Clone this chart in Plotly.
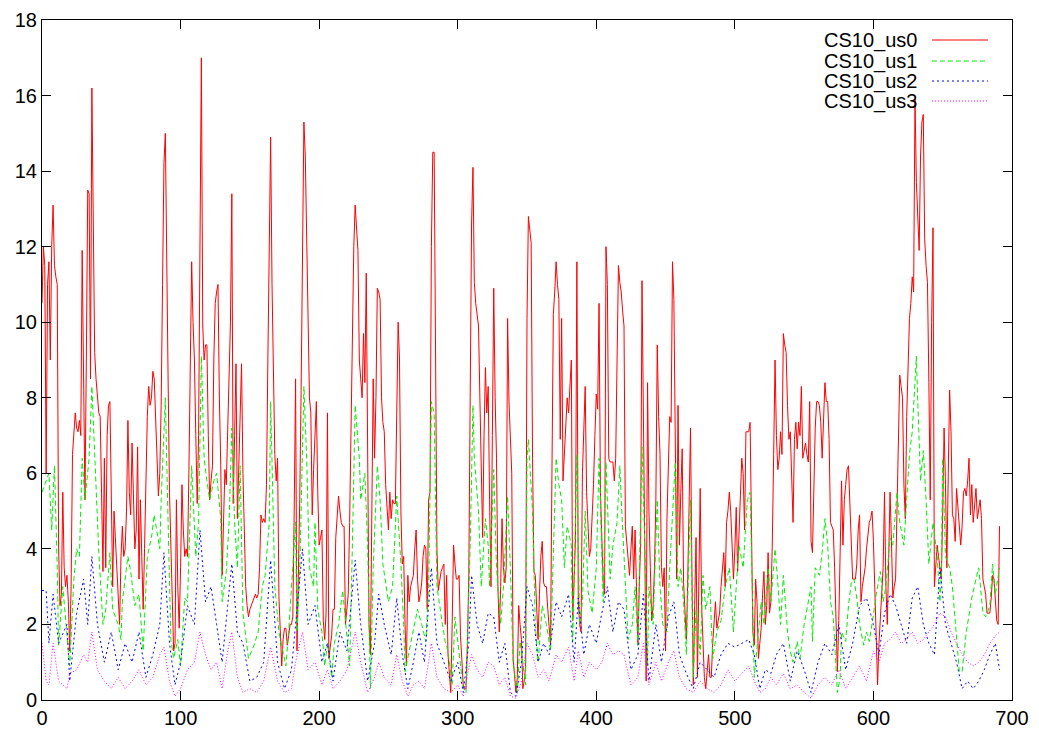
import plotly.graph_objects as go

# CS10_us0: one value per sample index 0..691
us0 = [10.5,12.0,11.5,6.0,11.0,11.6,9.0,12.0,13.1,11.5,11.2,11.0,4.0,2.5,2.8,5.5,3.5,3.0,3.3,2.6,
1.3,3.0,6.5,7.0,7.6,7.2,7.1,7.4,7.0,11.9,8.0,5.3,9.0,13.5,13.4,8.5,16.2,12.0,9.2,8.5,
8.0,7.6,7.5,5.0,3.4,6.4,3.5,7.0,7.8,7.9,4.7,3.0,5.0,4.2,3.5,2.4,2.0,3.8,4.6,3.8,
4.0,5.0,7.4,5.5,4.9,6.8,5.0,4.0,4.5,6.7,3.2,5.3,3.8,2.4,4.0,6.0,7.5,8.3,7.8,8.0,
8.7,8.5,7.6,6.5,5.4,6.0,7.8,11.0,14.2,15.0,11.0,8.5,5.5,4.1,2.5,1.3,1.5,5.3,3.0,1.9,
3.5,5.7,4.5,3.8,4.0,3.8,6.0,9.5,11.6,10.0,9.0,7.0,5.2,7.0,12.0,17.0,9.9,9.0,9.4,9.4,
7.0,5.3,5.8,6.2,9.0,10.5,10.8,11.0,8.0,6.2,3.3,4.5,6.1,5.7,7.0,8.5,10.0,13.4,5.2,7.0,
8.9,4.8,6.0,7.5,8.9,6.0,4.1,3.0,2.5,2.2,2.4,2.5,2.6,2.7,2.8,2.7,2.8,3.5,4.9,4.7,
4.8,4.7,5.7,9.0,13.0,14.9,11.0,9.2,6.5,5.8,6.4,2.7,1.5,0.9,1.6,1.9,1.9,1.45,1.7,2.0,
2.0,2.2,5.0,8.5,1.3,3.0,5.3,8.2,13.0,15.3,14.4,12.0,9.1,8.0,7.6,4.9,6.1,7.0,7.9,5.5,
4.1,4.3,4.5,2.1,1.6,2.3,7.6,1.1,1.5,1.7,2.4,2.4,4.3,5.0,5.4,5.0,4.7,4.6,4.6,2.0,
2.5,2.8,4.7,7.0,9.9,12.0,13.1,12.5,11.9,9.0,8.4,8.0,9.7,8.4,11.3,5.0,2.0,1.2,5.0,8.5,
6.4,8.0,10.9,10.8,10.6,8.0,7.35,7.1,5.7,5.0,4.5,5.5,4.8,5.3,5.2,5.2,7.5,10.0,9.0,5.0,
3.6,3.8,2.0,0.9,3.3,2.6,3.0,3.2,3.3,4.0,4.5,3.2,2.6,2.8,3.1,3.8,4.1,4.0,2.4,5.3,
5.5,12.0,14.5,14.5,8.0,4.0,2.9,3.2,3.4,3.5,3.6,2.0,3.3,1.2,0.6,0.2,2.0,4.1,3.6,3.2,
3.2,3.3,1.7,1.0,0.4,0.3,0.3,1.5,3.3,8.0,12.6,14.1,11.05,10.5,10.1,9.9,8.0,6.4,4.3,7.0,
8.8,7.6,8.3,5.3,3.0,7.0,10.9,8.0,6.4,3.0,1.8,3.0,4.8,3.5,3.1,3.5,10.1,7.9,7.0,6.0,
1.1,0.5,0.2,0.6,2.5,2.0,1.6,0.3,0.5,0.9,10.1,12.8,12.4,12.1,6.4,3.4,3.3,2.5,1.6,2.8,
3.8,4.2,3.1,3.0,3.0,2.4,1.8,1.45,6.0,10.2,10.8,11.6,11.0,10.6,6.9,10.1,5.8,6.5,7.5,8.0,
7.6,8.2,9.0,2.1,3.5,4.3,11.6,2.6,2.0,1.8,6.0,7.5,8.3,5.5,4.5,3.8,4.0,4.8,5.7,7.0,
8.1,7.7,10.5,5.5,4.0,3.1,2.8,12.0,11.0,6.4,6.3,6.3,6.3,5.8,6.4,9.0,11.5,11.05,10.8,10.3,
9.9,4.6,4.2,3.8,3.3,4.0,4.6,3.2,4.5,3.0,1.45,3.0,4.1,11.1,8.0,5.0,0.5,8.4,5.0,3.5,
2.1,2.5,3.5,5.3,9.4,7.5,6.5,3.5,3.0,3.5,1.3,4.8,6.5,7.5,7.35,11.6,10.6,6.0,3.2,7.8,
4.1,5.5,6.65,3.1,2.2,1.6,3.2,5.0,7.2,3.5,0.4,2.5,4.3,0.6,3.0,5.6,2.5,1.3,0.6,0.3,
0.9,1.2,0.6,0.6,1.5,2.0,2.6,1.9,2.1,2.3,3.0,3.5,3.9,3.0,4.7,5.0,5.5,5.0,4.0,3.2,
4.0,5.1,3.4,4.5,5.7,6.4,6.0,4.5,7.1,7.1,7.1,7.35,4.0,1.8,1.45,3.2,2.6,1.1,1.5,1.9,
2.8,3.4,2.0,2.5,3.9,2.3,2.6,4.1,6.5,9.0,7.0,6.1,6.4,7.1,6.5,9.7,9.4,9.2,7.8,6.9,
7.1,5.5,4.7,6.9,7.35,6.65,7.35,7.0,8.3,6.4,6.6,6.8,6.5,6.3,7.9,4.2,3.9,5.5,7.2,7.9,
7.9,7.8,7.35,6.4,7.5,8.4,7.9,7.9,6.9,4.7,4.6,4.5,3.5,2.0,0.75,2.1,4.0,5.8,4.1,5.3,
5.7,6.1,6.2,5.0,4.0,3.2,3.2,3.2,3.6,4.5,4.9,2.6,3.0,3.3,3.5,4.0,4.3,4.7,4.8,5.0,
4.2,3.0,1.9,0.4,1.5,2.3,3.0,3.5,5.5,3.0,2.0,4.0,5.5,4.2,2.7,3.0,3.2,5.0,7.0,8.6,
8.3,8.0,5.7,4.8,7.5,9.2,10.1,10.5,11.2,10.8,15.9,13.7,12.5,11.9,14.4,15.3,15.5,12.2,11.5,11.05,
8.4,5.3,10.0,12.5,3.0,3.5,4.1,3.8,3.5,3.2,5.0,7.2,5.7,3.5,6.0,8.2,7.1,4.9,4.8,4.2,
5.6,5.1,4.6,4.1,4.6,5.5,5.6,5.4,5.8,6.4,4.9,5.7,4.7,5.2,5.6,4.8,5.1,5.3,4.8,3.2,
3.0,2.8,2.3,2.3,2.3,2.7,3.3,3.2,2.7,2.1,2.0,4.6]
us0_x = list(range(len(us0)))

# CS10_us1
us1_x = [0,3,5,7,9,11,12,15,18,20,23,25,27,29,31,34,36,38,41,44,46,49,51,55,57,
58,62,64,67,70,73,76,79,81,85,86,89,91,93,95,98,100,103,105,108,111,113,115,
117,119,121,124,126,129,130,133,135,137,139,141,143,145,149,153,156,159,161,164,165,167,168,171,174,
176,178,183,184,186,189,191,193,196,197,199,202,204,206,209,211,214,217,220,222,224,226,229,230,233,
235,237,239,242,244,246,249,250,253,256,259,261,262,265,268,271,274,277,279,281,283,285,289,291,
293,296,298,300,304,306,309,311,312,315,317,320,322,323,326,328,331,333,336,338,340,343,345,349,350,
351,354,356,358,361,364,367,370,371,373,375,377,379,382,383,386,388,390,392,394,397,400,402,405,407,
410,412,415,417,418,421,423,426,428,430,433,435,437,438,441,444,446,448,451,453,455,457,459,461,463,465,467,
468,470,472,475,477,479,482,484,487,490,493,496,499,501,503,506,509,511,513,514,517,519,521,524,
526,529,531,533,535,538,540,542,545,547,550,552,555,556,558,561,563,565,567,569,571,574,576,577,580,582,584,
586,588,590,593,595,597,600,602,605,607,609,612,614,617,619,622,624,626,628,631,632,634,636,638,640,643,
646,648,649,650,652,655,657,659,662,664,667,669,671,674,676,679,681,684,686,688,691]
us1 = [5.5,5.8,6.0,4.5,6.2,3.5,1.45,3.0,1.8,0.9,3.2,4.0,3.8,6.4,5.3,6.4,8.3,6.4,3.9,2.0,2.4,3.9,2.4,2.0,1.6,
2.6,3.8,3.4,2.5,2.8,1.3,3.8,4.3,4.9,4.0,5.3,8.0,4.7,1.6,1.1,1.6,0.9,2.7,2.6,6.2,3.8,4.7,9.1,
6.4,5.8,5.3,5.8,6.0,4.8,2.6,3.4,4.7,7.2,4.7,3.5,6.2,2.3,1.1,1.45,1.8,3.0,3.3,4.7,7.9,4.7,3.0,1.8,1.2,
0.9,1.8,4.7,1.8,3.4,8.3,6.4,3.5,3.0,4.7,2.4,1.8,0.9,1.5,0.6,1.5,2.0,2.9,1.8,0.9,4.1,7.8,6.4,5.3,6.0,
4.1,0.3,3.5,6.2,5.3,3.6,2.8,2.6,3.0,5.4,3.6,2.0,0.75,1.3,1.8,2.4,2.0,1.55,3.0,7.9,7.6,3.0,2.0,1.55,
1.3,0.4,2.2,1.55,0.3,0.2,4.1,7.8,6.4,5.0,3.0,4.8,4.1,3.0,6.1,3.5,2.0,3.0,5.4,3.5,1.0,0.2,1.55,0.4,6.4,
6.9,5.0,2.0,1.0,2.5,2.0,1.3,5.3,6.4,5.7,5.3,3.5,4.6,4.1,1.55,6.5,2.0,2.6,5.0,2.9,2.3,3.5,6.4,2.6,6.3,
3.2,4.1,4.7,6.2,5.3,3.0,1.6,2.0,3.0,1.45,6.7,4.1,0.9,3.0,2.0,5.3,3.0,2.0,1.8,3.5,5.1,6.3,3.0,3.5,2.6,1.2,4.1,
5.3,0.6,2.4,1.2,3.3,2.4,3.0,1.1,1.8,2.1,3.0,3.5,1.8,3.0,4.1,3.5,5.3,5.5,2.4,0.6,1.8,2.6,2.0,3.5,
2.6,4.0,3.1,2.0,3.3,1.8,1.3,1.0,1.55,1.1,2.0,2.4,3.0,1.55,3.5,3.3,3.9,4.8,4.1,2.6,2.2,0.2,0.6,1.8,1.55,2.5,3.1,
3.2,2.7,2.0,1.45,1.8,1.55,2.25,2.8,3.4,2.6,3.0,4.3,4.1,5.5,4.7,4.1,5.3,6.5,7.1,9.1,7.9,5.8,6.6,5.3,3.6,4.7,
3.8,2.6,3.3,6.4,3.8,3.5,3.0,2.0,0.75,0.75,1.8,2.25,2.7,3.2,3.5,2.3,2.2,2.5,3.6,2.8,3.5]

# CS10_us2
us2_x = [0,3,5,8,12,18,20,25,30,33,36,40,45,50,55,60,65,70,75,80,85,88,92,96,100,105,110,114,118,122,126,
130,134,137,141,145,150,155,160,165,170,175,180,183,188,192,197,202,206,210,215,220,226,230,235,240,243,247,
252,256,260,264,268,272,276,281,285,290,295,300,304,308,310,314,318,322,326,330,334,338,342,346,350,354,358,
362,366,371,375,380,384,387,391,395,400,404,408,412,416,420,425,430,434,438,443,447,452,456,460,465,470,475,
480,485,490,495,500,505,510,514,518,522,526,530,535,540,545,550,555,560,565,570,575,580,585,590,595,600,604,
608,612,616,620,624,628,632,636,640,644,648,652,656,660,664,668,672,676,680,684,688,691]
us2 = [2.9,2.9,1.5,2.8,1.5,2.0,0.5,2.3,3.2,2.0,3.8,2.0,1.0,1.8,0.8,1.5,1.0,1.8,0.6,1.2,2.0,3.9,1.5,0.4,1.0,2.5,2.0,4.5,2.6,3.0,2.0,
1.0,2.5,3.6,1.8,1.5,0.5,0.6,1.0,3.7,1.0,0.3,0.8,2.0,4.0,2.0,2.5,1.0,1.5,0.5,1.8,1.3,3.7,2.0,0.5,1.5,2.8,2.0,
1.2,2.7,1.2,0.3,1.0,1.8,1.0,3.5,1.5,1.0,0.5,1.0,0.2,1.5,3.3,2.0,1.5,2.3,2.2,1.0,1.5,0.2,0.1,1.0,3.0,2.5,1.0,
1.5,1.2,2.6,2.2,2.8,1.0,2.7,1.2,2.0,1.5,2.3,3.0,1.8,2.6,2.4,0.8,1.2,2.8,0.5,2.0,1.0,2.2,2.6,1.2,0.7,0.3,1.0,
0.8,0.6,1.2,1.5,1.4,1.5,1.6,1.2,0.3,0.8,0.7,1.2,1.5,0.5,1.3,0.8,0.2,1.0,1.5,1.2,2.0,0.8,1.5,2.5,2.7,2.0,1.2,
2.3,2.8,2.5,2.0,1.5,2.7,3.0,2.0,1.5,1.2,3.5,2.0,1.5,1.0,0.3,0.5,0.3,0.5,0.8,1.2,1.5,0.8]

# CS10_us3
us3_x = us2_x
us3 = [1.5,0.5,0.4,1.5,0.5,0.3,0.7,0.8,1.2,1.0,1.8,0.8,0.5,0.3,0.6,0.3,0.5,0.8,0.4,0.6,1.2,1.4,0.5,0.1,0.3,0.8,1.0,1.8,1.2,0.8,1.0,
0.3,1.3,1.8,0.6,0.2,0.3,0.2,0.5,1.4,0.5,0.2,0.3,1.0,1.8,0.8,1.0,0.4,0.8,0.3,0.5,0.8,1.8,1.0,0.2,0.6,1.0,0.6,
0.4,1.2,0.5,0.1,0.4,0.5,0.3,1.5,0.6,0.3,0.2,0.4,0.1,0.8,1.2,0.8,0.6,1.0,0.9,0.4,0.6,0.1,0.05,0.5,1.5,1.2,0.6,
0.8,0.5,1.2,1.0,1.4,0.5,1.3,0.6,1.0,0.8,1.0,1.5,1.2,1.3,1.2,0.4,0.6,1.5,0.4,1.0,0.5,1.0,1.3,0.6,0.3,0.2,0.5,
0.3,0.2,0.4,0.8,0.5,0.7,0.9,0.5,0.2,0.3,0.6,0.4,0.7,0.3,0.4,0.2,0.05,0.4,0.6,0.4,0.8,0.3,0.6,0.9,0.5,1.3,1.0,
1.5,1.6,1.8,1.5,1.6,1.8,1.5,1.6,1.8,2.0,2.3,2.2,1.8,1.5,1.2,1.0,0.9,1.0,1.2,1.5,1.7,1.8]

names = ["CS10_us0", "CS10_us1", "CS10_us2", "CS10_us3"]
colors = ["#ff0000", "#00ee00", "#0000ff", "#ff00ff"]
dashes = ["solid", "5px,3px", "2px,3px", "1px,2px"]

fig = go.Figure()
series = [(us0_x, us0), (us1_x, us1), (us2_x, us2), (us3_x, us3)]
for (xs, ys), nm, c, d in zip(series, names, colors, dashes):
    fig.add_trace(go.Scatter(x=xs, y=ys, mode="lines", name=nm,
                             line=dict(color=c, width=1, dash=d), showlegend=False))

# page body has an 8px margin; size the figure so the plot box lands at 42..1012 x 20..700
OFF = 8
W, H = 1039 - OFF, 732 - OFF
L, R, T, B = 42 - OFF, 27, 20 - OFF, 32
pw, ph = W - L - R, H - T - B
rows = [40, 61, 81, 101]   # page y of legend rows
FONT = "Liberation Sans, Arial"
for nm, c, d, ry in zip(names, colors, dashes, rows):
    yp = (700 - ry) / ph
    fig.add_annotation(xref="paper", yref="paper", x=(919 - 42) / pw, y=yp, text=nm,
                       showarrow=False, xanchor="right", yanchor="middle",
                       font=dict(family=FONT, size=20, color="black"))
    fig.add_shape(type="line", xref="paper", yref="paper", x0=(932 - 42) / pw, x1=(988 - 42) / pw,
                  y0=yp, y1=yp, line=dict(color=c, width=1, dash=d))

axis_common = dict(showgrid=False, zeroline=False, showline=True, linecolor="black", linewidth=1,
                   mirror="ticks", ticks="inside", ticklen=9, tickcolor="black", automargin=False,
                   tickfont=dict(family=FONT, size=20, color="black"))
fig.update_xaxes(range=[0, 700], dtick=100, tick0=0, **axis_common)
fig.update_yaxes(range=[0, 18], dtick=2, tick0=0, **axis_common)
fig.update_layout(width=W, height=H, margin=dict(l=L, r=R, t=T, b=B, autoexpand=False),
                  plot_bgcolor="white", paper_bgcolor="white")
fig.write_html("out.html")
